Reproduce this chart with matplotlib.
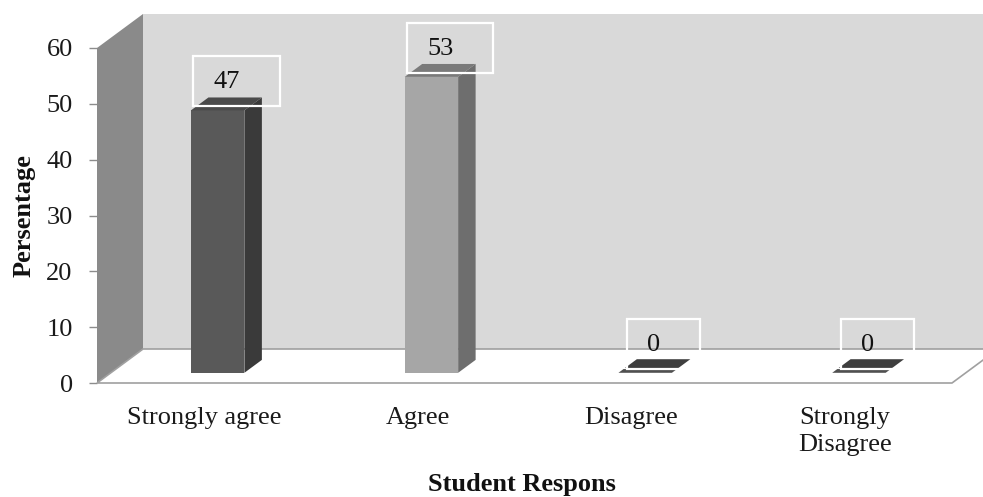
import matplotlib
matplotlib.use("Agg")
import matplotlib.pyplot as plt
from matplotlib.patches import Polygon, Rectangle

categories = ["Strongly agree", "Agree", "Disagree", "Strongly\nDisagree"]
percentages = [47, 53, 0, 0]
y_ticks = [0, 10, 20, 30, 40, 50, 60]
x_title = "Student Respons"
y_title = "Persentage"

front_colors = ["#595959", "#a6a6a6", "#505050", "#505050"]
side_colors = ["#3a3a3a", "#6e6e6e", "#3a3a3a", "#3a3a3a"]
top_colors = ["#4a4a4a", "#7a7a7a", "#3f3f3f", "#3f3f3f"]

plt.rcParams["font.family"] = ["Liberation Serif", "DejaVu Serif"]
FS = 19

W, H = 983, 497
fig = plt.figure(figsize=(W / 100, H / 100), dpi=100)
# front plane of the box: x from category 0 to 4, y from 0 to 60
ax = fig.add_axes([97 / W, (H - 383) / H, 855 / W, 335 / H])
ax.set_xlim(0, len(categories))
ax.set_ylim(0, 60)
for s in ax.spines.values():
    s.set_visible(False)
ax.patch.set_visible(False)

# oblique depth offset in data units (full depth of the box)
DX = 46 / 213.75
DY = 34 / (335 / 60)


def proj(x, y, d):
    return (x + d * DX, y + d * DY)


ncat = len(categories)
ymax = y_ticks[-1]

# back wall
ax.add_patch(Polygon([proj(0, 0, 1), proj(0, ymax, 1), proj(ncat, ymax, 1), proj(ncat, 0, 1)],
                     closed=True, facecolor="#d9d9d9", edgecolor="none", zorder=1, clip_on=False))
# left side wall
ax.add_patch(Polygon([proj(0, 0, 0), proj(0, ymax, 0), proj(0, ymax, 1), proj(0, 0, 1)],
                     closed=True, facecolor="#8a8a8a", edgecolor="none", zorder=2, clip_on=False))
# floor
ax.add_patch(Polygon([proj(0, 0, 0), proj(0, 0, 1), proj(ncat, 0, 1), proj(ncat, 0, 0)],
                     closed=True, facecolor="white", edgecolor="#a0a0a0", linewidth=1.2,
                     zorder=2, clip_on=False))

# bars
bw = 0.25
d0, d1 = 0.30, 0.68
for i, v in enumerate(percentages):
    xl = i + 0.5 - bw / 2
    xr = i + 0.5 + bw / 2
    if v > 0:
        front = [proj(xl, 0, d0), proj(xl, v, d0), proj(xr, v, d0), proj(xr, 0, d0)]
        side = [proj(xr, 0, d0), proj(xr, v, d0), proj(xr, v, d1), proj(xr, 0, d1)]
        top = [proj(xl, v, d0), proj(xl, v, d1), proj(xr, v, d1), proj(xr, v, d0)]
        ax.add_patch(Polygon(side, closed=True, facecolor=side_colors[i], edgecolor="none",
                             zorder=3, clip_on=False))
        ax.add_patch(Polygon(front, closed=True, facecolor=front_colors[i], edgecolor="none",
                             zorder=3, clip_on=False))
        ax.add_patch(Polygon(top, closed=True, facecolor=top_colors[i], edgecolor="none",
                             zorder=3, clip_on=False))
    else:
        # a flat bar: its top face plus a thin front edge
        top = [proj(xl, v, d0 + 0.14), proj(xl, v, d1 + 0.02),
               proj(xr, v, d1 + 0.02), proj(xr, v, d0 + 0.14)]
        edge = [proj(xl, v, d0), proj(xl, v, d0 + 0.11),
                proj(xr, v, d0 + 0.11), proj(xr, v, d0)]
        ax.add_patch(Polygon(top, closed=True, facecolor=top_colors[i], edgecolor="none",
                             zorder=3, clip_on=False))
        ax.add_patch(Polygon(edge, closed=True, facecolor=front_colors[i], edgecolor="none",
                             zorder=3, clip_on=False))

# value labels
texts = []
for i, v in enumerate(percentages):
    cx, cy = proj(i + 0.5, v, (d0 + d1) / 2)
    t = ax.annotate(f"{v}", xy=(cx, cy), xytext=(0, 21.5 * 0.72), textcoords="offset points",
                    ha="center", va="center", fontsize=FS, color="#111111", zorder=6,
                    annotation_clip=False)
    texts.append(t)

# axes ticks and labels
ax.set_yticks(y_ticks)
ax.set_yticklabels([str(t) for t in y_ticks])
ax.tick_params(axis="y", length=5.5, width=1, color="#8c8c8c", direction="out", pad=12,
               labelsize=FS, labelcolor="#1a1a1a")
ax.set_xticks([i + 0.5 for i in range(ncat)])
ax.set_xticklabels(categories, linespacing=1.3)
ax.tick_params(axis="x", length=0, pad=17, labelsize=FS, labelcolor="#1a1a1a")

ax.set_ylabel(y_title, fontsize=FS, fontweight="bold", color="#111111")
ax.yaxis.set_label_coords((36 - 97) / 855, 0.5)
ax.set_xlabel(x_title, fontsize=FS, fontweight="bold", color="#111111")
ax.xaxis.set_label_coords(0.497, (383 - 484) / 335)
ax.xaxis.label.set_va("center")

# white frames around data labels, sized from the rendered text
fig.canvas.draw()
renderer = fig.canvas.get_renderer()
for t in texts:
    bb = t.get_window_extent(renderer)
    cxp = (bb.x0 + bb.x1) / 2
    cyp = (bb.y0 + bb.y1) / 2
    tw = bb.width
    x0 = cxp - tw / 2 - 20
    x1 = cxp + tw / 2 + 40
    y0 = cyp - 24
    y1 = cyp + 26
    fig.patches.append(Rectangle((x0, y0), x1 - x0, y1 - y0, transform=None,
                                 fill=False, edgecolor="white", linewidth=1.6, zorder=7))

fig.savefig("out.png", dpi=100)
